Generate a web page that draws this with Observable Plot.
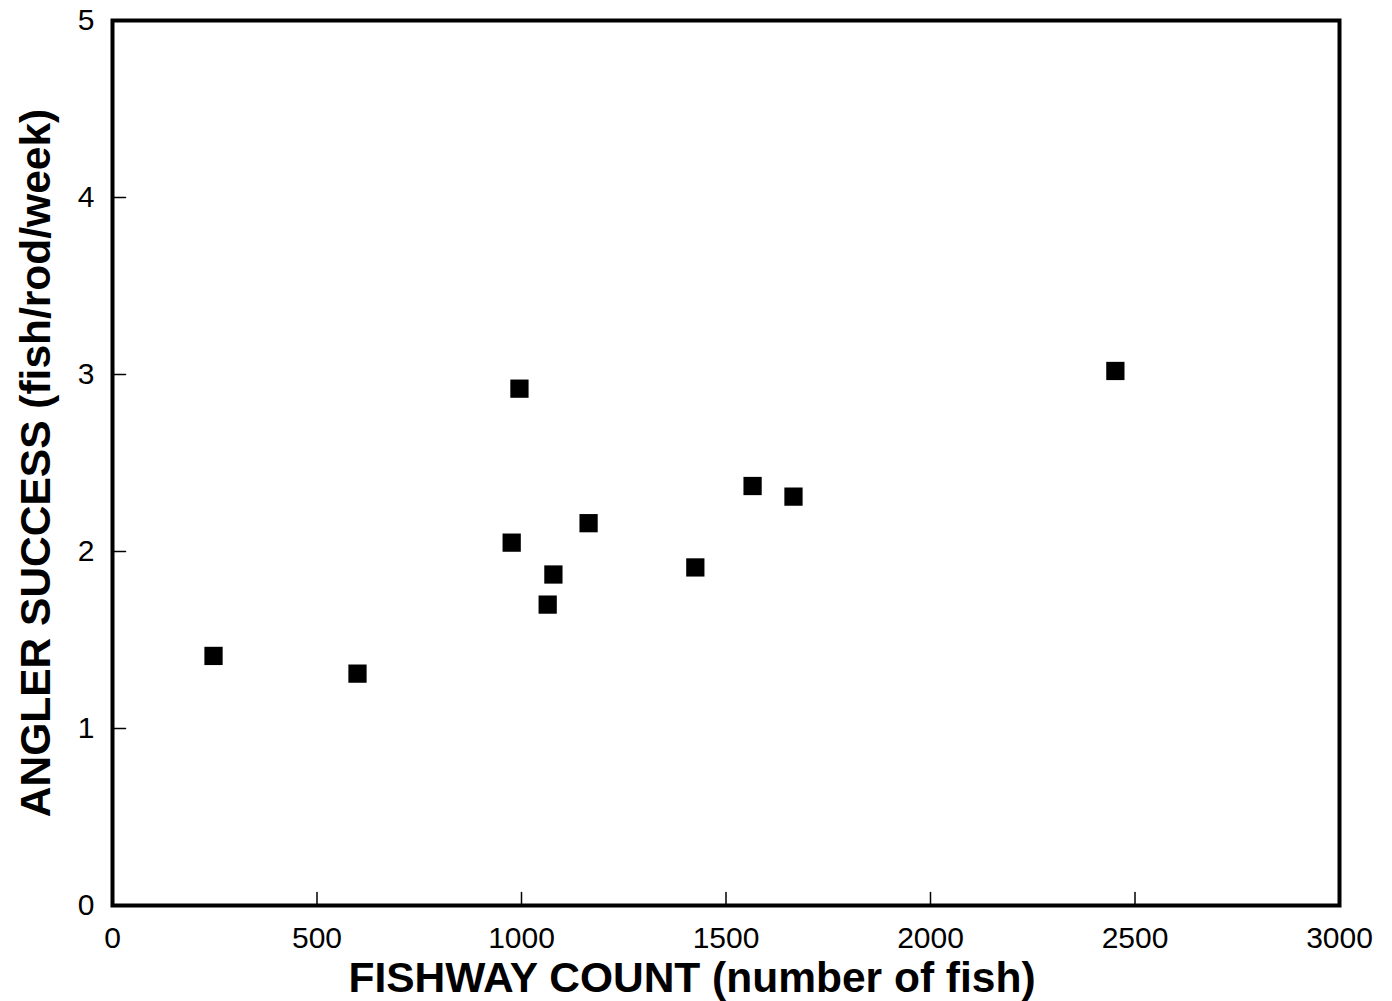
<!DOCTYPE html>
<html>
<head>
<meta charset="utf-8">
<script src="https://cdn.jsdelivr.net/npm/d3@7"></script>
<script src="https://cdn.jsdelivr.net/npm/@observablehq/plot@0.6"></script>
<style>
  html, body { margin: 0; padding: 0; background: #fff; }
  svg { display: block; }
</style>
</head>
<body>
<div id="chart"></div>
<script>
const fishwayCount = [247, 599, 976, 995, 1064, 1078, 1164, 1425, 1565, 1665, 2452];
const anglerSuccess = [1.41, 1.31, 2.05, 2.92, 1.70, 1.87, 2.16, 1.91, 2.37, 2.31, 3.02];
const xTicks = [0, 500, 1000, 1500, 2000, 2500, 3000];
const yTicks = [0, 1, 2, 3, 4, 5];
const xTitle = "FISHWAY COUNT (number of fish)";
const yTitle = "ANGLER SUCCESS (fish/rod/week)";

const data = fishwayCount.map((x, i) => ({x, y: anglerSuccess[i]}));
const tickShape = {draw(context, l) { context.moveTo(0, 0); context.lineTo(0, -l); }};

const chart = Plot.plot({
  width: 1392,
  height: 1001,
  marginLeft: 112,
  marginRight: 53,
  marginTop: 20,
  marginBottom: 96,
  style: {fontFamily: "'Liberation Sans', Arial, sans-serif", fontSize: "30px", color: "#000", background: "#fff"},
  x: {domain: [0, 3000]},
  y: {domain: [0, 5]},
  marks: [
    Plot.axisX({ticks: xTicks, tickSize: 0, tickPadding: 21, tickFormat: d => String(d), label: null}),
    Plot.axisY({ticks: yTicks, tickSize: 0, tickPadding: 18, tickFormat: d => String(d), label: null}),
    Plot.vector(xTicks, {x: d => d, frameAnchor: "bottom", length: 13, rotate: 0, anchor: "start", shape: tickShape, stroke: "#000", strokeWidth: 1.5}),
    Plot.vector(yTicks, {y: d => d, frameAnchor: "left", length: 13, rotate: 90, anchor: "start", shape: tickShape, stroke: "#000", strokeWidth: 1.5}),
    Plot.frame({stroke: "#000", strokeWidth: 4}),
    Plot.dot(data, {x: "x", y: "y", symbol: "square", r: 10.3, fill: "#000", stroke: "none"}),
    Plot.text([xTitle], {text: d => d, frameAnchor: "bottom", textAnchor: "middle", lineAnchor: "bottom", dx: -34, dy: 86, fontSize: 42.5, fontWeight: "bold"}),
    Plot.text([yTitle], {text: d => d, frameAnchor: "left", textAnchor: "middle", rotate: -90, lineAnchor: "top", dx: -93, fontSize: 42.5, fontWeight: "bold"})
  ]
});
document.getElementById("chart").appendChild(chart);
</script>
</body>
</html>
